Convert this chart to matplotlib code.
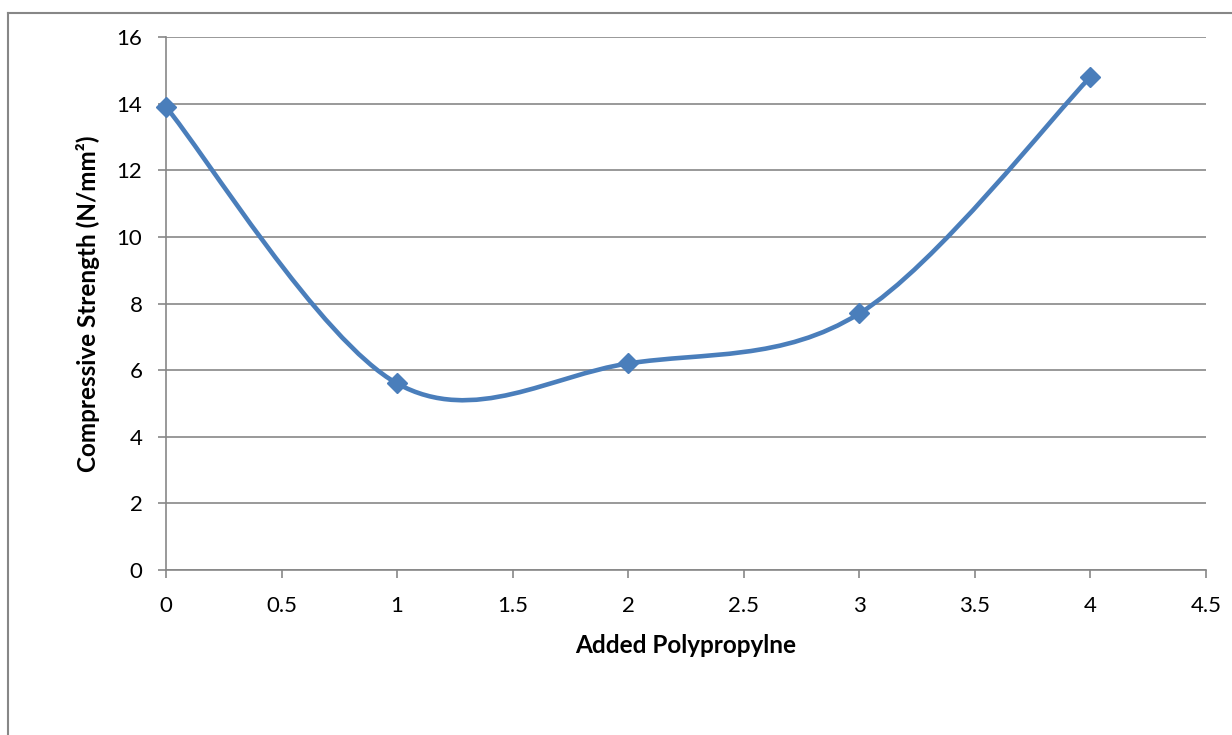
import numpy as np
import matplotlib.pyplot as plt
from matplotlib.path import Path
from matplotlib.patches import PathPatch
from matplotlib.lines import Line2D

# datos
polypropylene = [0, 1, 2, 3, 4]
strength = [13.9, 5.6, 6.2, 7.7, 14.8]
x_ticks = [0, 0.5, 1, 1.5, 2, 2.5, 3, 3.5, 4, 4.5]
y_ticks = [0, 2, 4, 6, 8, 10, 12, 14, 16]

blue = '#4A7EBB'
grey = '#878787'
plt.rcParams['font.family'] = ['Lato', 'DejaVu Sans']

fig = plt.figure(figsize=(12.32, 7.35), dpi=100)
ax = fig.add_axes([166 / 1232, 1 - 570 / 735, 1040 / 1232, 533 / 735])

# curva suavizada tipo Excel (Catmull-Rom -> Bezier)
pts = np.column_stack([polypropylene, strength]).astype(float)
verts = [pts[0]]
codes = [Path.MOVETO]
n = len(pts)
for i in range(n - 1):
    p0 = pts[i - 1] if i > 0 else pts[i]
    p1, p2 = pts[i], pts[i + 1]
    p3 = pts[i + 2] if i + 2 < n else pts[i + 1]
    c1 = p1 + (p2 - p0) / 6
    c2 = p2 - (p3 - p1) / 6
    verts += [c1, c2, p2]
    codes += [Path.CURVE4] * 3
ax.add_patch(PathPatch(Path(verts, codes), fill=False, edgecolor=blue,
                       lw=3.3, capstyle='round', zorder=3))
ax.plot(polypropylene, strength, linestyle='none', marker='D', ms=10,
        color=blue, zorder=4, clip_on=False)

ax.set_xlim(0, 4.5)
ax.set_ylim(0, 16)
ax.set_xticks(x_ticks)
ax.set_xticklabels([f'{t:g}' for t in x_ticks])
ax.set_yticks(y_ticks)
ax.grid(axis='y', color=grey, lw=1.2)
ax.set_axisbelow(True)
for side in ['top', 'right']:
    ax.spines[side].set_visible(False)
for side in ['left', 'bottom']:
    ax.spines[side].set_color(grey)
    ax.spines[side].set_linewidth(1.2)
ax.tick_params(axis='both', direction='out', length=6, width=1.2, color=grey,
               labelsize=16, labelcolor='black')
ax.tick_params(axis='x', pad=13)
ax.tick_params(axis='y', pad=11)

ax.set_xlabel('Added Polypropylne', fontsize=17.5, fontweight='bold', labelpad=13)
ax.set_ylabel('Compressive Strength (N/mm²)', fontsize=17.5, fontweight='bold',
              labelpad=12)

# marco del área del gráfico (recortado en la imagen original)
fig.add_artist(Line2D([8 / 1232, 8 / 1232], [0, 1 - 13 / 735], color=grey,
                      lw=1.5, transform=fig.transFigure))
fig.add_artist(Line2D([8 / 1232, 1], [1 - 13 / 735, 1 - 13 / 735], color=grey,
                      lw=1.5, transform=fig.transFigure))

fig.savefig('out.png', dpi=100)
